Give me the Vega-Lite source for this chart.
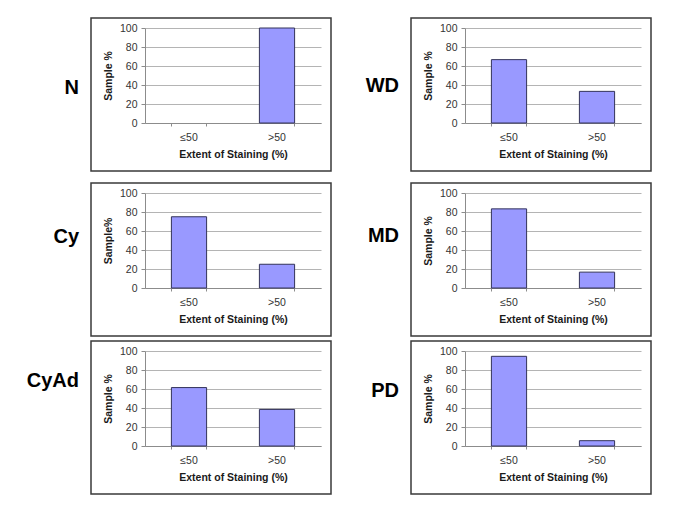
{
  "$schema": "https://vega.github.io/schema/vega-lite/v6.json",
  "padding": {"left": 26, "top": 17, "right": 5, "bottom": 5},
  "background": "white",
  "data": {"values": [
    {"group": "N", "extent": "≤50", "pct": 0},
    {"group": "N", "extent": ">50", "pct": 100},
    {"group": "WD", "extent": "≤50", "pct": 66.7},
    {"group": "WD", "extent": ">50", "pct": 33.3},
    {"group": "Cy", "extent": "≤50", "pct": 75},
    {"group": "Cy", "extent": ">50", "pct": 25},
    {"group": "MD", "extent": "≤50", "pct": 83.3},
    {"group": "MD", "extent": ">50", "pct": 16.7},
    {"group": "CyAd", "extent": "≤50", "pct": 61.5},
    {"group": "CyAd", "extent": ">50", "pct": 38.5},
    {"group": "PD", "extent": "≤50", "pct": 94.4},
    {"group": "PD", "extent": ">50", "pct": 5.6}
  ]},
  "vconcat": [
    {
      "vconcat": [
        {
          "hconcat": [
            {
              "title": {"text": "N", "dy": -17, "offset": 4.8},
              "width": 240, "height": 153,
              "transform": [{"filter": "datum.group === 'N'"}],
              "mark": {"type": "bar", "fill": "#9999ff", "stroke": "#33335a", "strokeWidth": 1},
              "encoding": {
                "x": {"field": "extent", "type": "nominal", "title": "Extent of Staining (%)", "scale": {"domain": ["≤50", ">50"], "range": [54, 230], "paddingInner": 0.6, "paddingOuter": 0.3}, "axis": {"offset": -48}},
                "y": {"field": "pct", "type": "quantitative", "title": "Sample %", "scale": {"domain": [0, 100], "range": [105, 10], "nice": false, "zero": true}, "axis": {"offset": -54, "values": [0, 20, 40, 60, 80, 100]}},
                "strokeOpacity": {"condition": {"test": "datum.pct == 0", "value": 0}, "value": 1}
              }
            },
            {
              "title": {"text": "WD", "dy": -19, "offset": -4.7},
              "width": 240, "height": 153,
              "transform": [{"filter": "datum.group === 'WD'"}],
              "mark": {"type": "bar", "fill": "#9999ff", "stroke": "#33335a", "strokeWidth": 1},
              "encoding": {
                "x": {"field": "extent", "type": "nominal", "title": "Extent of Staining (%)", "scale": {"domain": ["≤50", ">50"], "range": [54, 230], "paddingInner": 0.6, "paddingOuter": 0.3}, "axis": {"offset": -48}},
                "y": {"field": "pct", "type": "quantitative", "title": "Sample %", "scale": {"domain": [0, 100], "range": [105, 10], "nice": false, "zero": true}, "axis": {"offset": -54, "values": [0, 20, 40, 60, 80, 100]}}
              }
            }
          ],
          "spacing": 80, "bounds": "flush"
        },
        {
          "hconcat": [
            {
              "title": {"text": "Cy", "dy": -33, "offset": -0.8},
              "width": 240, "height": 153,
              "transform": [{"filter": "datum.group === 'Cy'"}],
              "mark": {"type": "bar", "fill": "#9999ff", "stroke": "#33335a", "strokeWidth": 1},
              "encoding": {
                "x": {"field": "extent", "type": "nominal", "title": "Extent of Staining (%)", "scale": {"domain": ["≤50", ">50"], "range": [54, 230], "paddingInner": 0.6, "paddingOuter": 0.3}, "axis": {"offset": -48}},
                "y": {"field": "pct", "type": "quantitative", "title": "Sample%", "scale": {"domain": [0, 100], "range": [105, 10], "nice": false, "zero": true}, "axis": {"offset": -54, "values": [0, 20, 40, 60, 80, 100]}}
              }
            },
            {
              "title": {"text": "MD", "dy": -34, "offset": -3.6},
              "width": 240, "height": 153,
              "transform": [{"filter": "datum.group === 'MD'"}],
              "mark": {"type": "bar", "fill": "#9999ff", "stroke": "#33335a", "strokeWidth": 1},
              "encoding": {
                "x": {"field": "extent", "type": "nominal", "title": "Extent of Staining (%)", "scale": {"domain": ["≤50", ">50"], "range": [54, 230], "paddingInner": 0.6, "paddingOuter": 0.3}, "axis": {"offset": -48}},
                "y": {"field": "pct", "type": "quantitative", "title": "Sample %", "scale": {"domain": [0, 100], "range": [105, 10], "nice": false, "zero": true}, "axis": {"offset": -54, "values": [0, 20, 40, 60, 80, 100]}}
              }
            }
          ],
          "spacing": 80, "bounds": "flush"
        }
      ],
      "spacing": 10
    },
    {
      "hconcat": [
        {
          "title": {"text": "CyAd", "dy": -47, "offset": -14.1},
          "width": 240, "height": 153,
          "transform": [{"filter": "datum.group === 'CyAd'"}],
          "mark": {"type": "bar", "fill": "#9999ff", "stroke": "#33335a", "strokeWidth": 1},
          "encoding": {
            "x": {"field": "extent", "type": "nominal", "title": "Extent of Staining (%)", "scale": {"domain": ["≤50", ">50"], "range": [54, 230], "paddingInner": 0.6, "paddingOuter": 0.3}, "axis": {"offset": -48}},
            "y": {"field": "pct", "type": "quantitative", "title": "Sample %", "scale": {"domain": [0, 100], "range": [105, 10], "nice": false, "zero": true}, "axis": {"offset": -54, "values": [0, 20, 40, 60, 80, 100]}}
          }
        },
        {
          "title": {"text": "PD", "dy": -37, "offset": -1.9},
          "width": 240, "height": 153,
          "transform": [{"filter": "datum.group === 'PD'"}],
          "mark": {"type": "bar", "fill": "#9999ff", "stroke": "#33335a", "strokeWidth": 1},
          "encoding": {
            "x": {"field": "extent", "type": "nominal", "title": "Extent of Staining (%)", "scale": {"domain": ["≤50", ">50"], "range": [54, 230], "paddingInner": 0.6, "paddingOuter": 0.3}, "axis": {"offset": -48}},
            "y": {"field": "pct", "type": "quantitative", "title": "Sample %", "scale": {"domain": [0, 100], "range": [105, 10], "nice": false, "zero": true}, "axis": {"offset": -54, "values": [0, 20, 40, 60, 80, 100]}}
          }
        }
      ],
      "spacing": 80, "bounds": "flush"
    }
  ],
  "spacing": 3,
  "config": {
    "font": "Liberation Sans",
    "view": {"stroke": "#3a3a3a", "strokeWidth": 1.5},
    "title": {"orient": "left", "angle": 0, "align": "center", "baseline": "middle", "anchor": "middle", "fontSize": 20, "font": "Liberation Sans", "fontWeight": "bold", "color": "#000000"},
    "axis": {"labelFont": "Liberation Sans", "titleFont": "Liberation Sans", "labelFontSize": 10.5, "labelColor": "#333333", "titleFontSize": 10.5, "titleFontWeight": "bold", "titleColor": "#1a1a1a", "domainColor": "#8c8c8c", "tickColor": "#8c8c8c", "gridColor": "#b4b4b4", "gridWidth": 1},
    "axisX": {"grid": false, "labelAngle": 0, "labelPadding": 6, "titlePadding": 7, "bandPosition": 1, "tickExtra": true, "tickSize": 3},
    "axisY": {"grid": true, "tickSize": 4, "labelPadding": 4, "titlePadding": 6}
  }
}
